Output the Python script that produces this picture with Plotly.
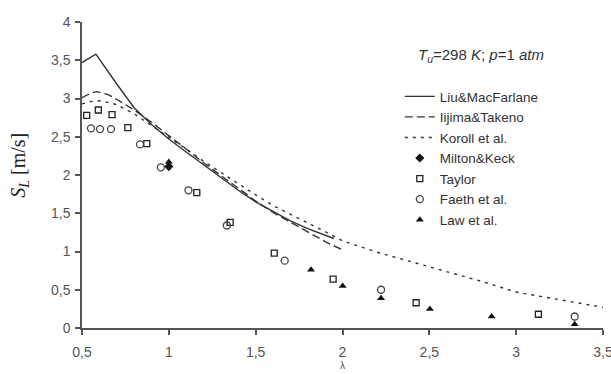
import plotly.graph_objects as go

# Model curves: equivalence ratio vs laminar burning velocity
liu_lam = [0.5, 0.58, 0.7, 0.8, 0.9, 1.0, 1.1, 1.2, 1.3, 1.4, 1.5, 1.6, 1.7, 1.8, 1.9, 1.95]
liu_sl = [3.47, 3.58, 3.19, 2.88, 2.66, 2.47, 2.30, 2.13, 1.96, 1.80, 1.65, 1.52, 1.40, 1.30, 1.21, 1.17]

iijima_lam = [0.5, 0.55, 0.585, 0.65, 0.7, 0.8, 0.9, 1.0, 1.1, 1.2, 1.3, 1.4, 1.5, 1.6, 1.7, 1.8, 1.9, 2.0]
iijima_sl = [3.01, 3.07, 3.09, 3.05, 2.99, 2.85, 2.69, 2.52, 2.34, 2.16, 1.99, 1.82, 1.66, 1.51, 1.38, 1.25, 1.13, 1.02]

koroll_lam = [0.5, 0.55, 0.61, 0.7, 0.8, 0.9, 1.0, 1.1, 1.2, 1.3, 1.4, 1.5, 1.6, 1.7, 1.8, 1.9, 2.0,
              2.2, 2.5, 2.8, 3.0, 3.2, 3.5]
koroll_sl = [2.93, 2.96, 2.97, 2.92, 2.80, 2.65, 2.49, 2.34, 2.18, 2.03, 1.88, 1.74, 1.60, 1.49, 1.37, 1.26, 1.14,
             0.99, 0.80, 0.61, 0.47, 0.39, 0.27]

# Measurements
milton_lam = [1.0]
milton_sl = [2.11]

taylor_lam = [0.527, 0.594, 0.673, 0.764, 0.873, 1.161, 1.353, 1.607, 1.946, 2.424, 3.128]
taylor_sl = [2.78, 2.85, 2.79, 2.62, 2.41, 1.77, 1.38, 0.98, 0.64, 0.33, 0.18]

faeth_lam = [0.552, 0.604, 0.667, 0.834, 0.954, 1.113, 1.334, 1.667, 2.222, 3.337]
faeth_sl = [2.61, 2.60, 2.60, 2.40, 2.10, 1.80, 1.34, 0.88, 0.50, 0.15]

law_lam = [1.0, 1.819, 2.001, 2.222, 2.503, 2.859, 3.337]
law_sl = [2.17, 0.76, 0.55, 0.39, 0.25, 0.15, 0.05]

x_ticks = [0.5, 1, 1.5, 2, 2.5, 3, 3.5]
y_ticks = [0, 0.5, 1, 1.5, 2, 2.5, 3, 3.5, 4]

ink = "#333333"
sans = "Liberation Sans, Arial"

fig = go.Figure()
fig.add_trace(go.Scatter(x=liu_lam, y=liu_sl, mode="lines", name="Liu&MacFarlane",
                         line=dict(color=ink, width=1.4)))
fig.add_trace(go.Scatter(x=iijima_lam, y=iijima_sl, mode="lines", name="Iijima&Takeno",
                         line=dict(color=ink, width=1.4, dash="8px,4px")))
fig.add_trace(go.Scatter(x=koroll_lam, y=koroll_sl, mode="lines", name="Koroll et al.",
                         line=dict(color=ink, width=1.4, dash="3px,5px")))
fig.add_trace(go.Scatter(x=milton_lam, y=milton_sl, mode="markers", name="Milton&Keck",
                         marker=dict(symbol="diamond", size=7, color="#111111")))
fig.add_trace(go.Scatter(x=taylor_lam, y=taylor_sl, mode="markers", name="Taylor",
                         marker=dict(symbol="square-open", size=6, color="#222222",
                                     line=dict(width=1.3))))
fig.add_trace(go.Scatter(x=faeth_lam, y=faeth_sl, mode="markers", name="Faeth et al.",
                         marker=dict(symbol="circle-open", size=7, color="#444444",
                                     line=dict(width=1.3))))
fig.add_trace(go.Scatter(x=law_lam, y=law_sl, mode="markers", name="Law et al.",
                         marker=dict(symbol="triangle-up", size=7, color="#111111")))

axis_common = dict(
    showline=True, linecolor="#555555", linewidth=1.5,
    ticks="outside", ticklen=5, tickwidth=1.5, tickcolor="#555555",
    showgrid=False, zeroline=False, mirror=False, automargin=False,
    ticklabeloverflow="allow",
    tickfont=dict(family=sans, size=14, color="#555555"),
)

fig.update_layout(
    width=611, height=374,
    margin=dict(l=82, r=8, t=22, b=46),
    paper_bgcolor="white", plot_bgcolor="white",
    separators=", ",
    showlegend=True,
    legend=dict(x=0.61, y=0.807, xanchor="left", yanchor="top",
                font=dict(family=sans, size=13.5, color=ink),
                bgcolor="rgba(0,0,0,0)", tracegroupgap=0, itemwidth=30),
    xaxis=dict(range=[0.5, 3.5], tickvals=x_ticks, ticklabelstandoff=5,
               title=dict(text="λ", font=dict(family=sans, size=10, color="#555555"),
                          standoff=3),
               **axis_common),
    yaxis=dict(range=[0, 4], tickvals=y_ticks, ticklabelstandoff=2,
               **axis_common),
    annotations=[
        dict(text="<i>T</i><sub><i>u</i></sub>=298 <i>K</i>; <i>p</i>=1 <i>atm</i>",
             xref="paper", yref="paper", x=0.641, y=0.89, xanchor="left", yanchor="middle",
             showarrow=False, font=dict(family=sans, size=15, color=ink)),
        dict(text="<i>S</i><sub><i>L</i></sub> [m/s]",
             xref="paper", yref="paper", x=-0.119, y=0.53, xanchor="center", yanchor="middle",
             textangle=-90, showarrow=False,
             font=dict(family="Liberation Serif, DejaVu Serif", size=20, color="#222222")),
    ],
)

fig.write_html("out.html")
